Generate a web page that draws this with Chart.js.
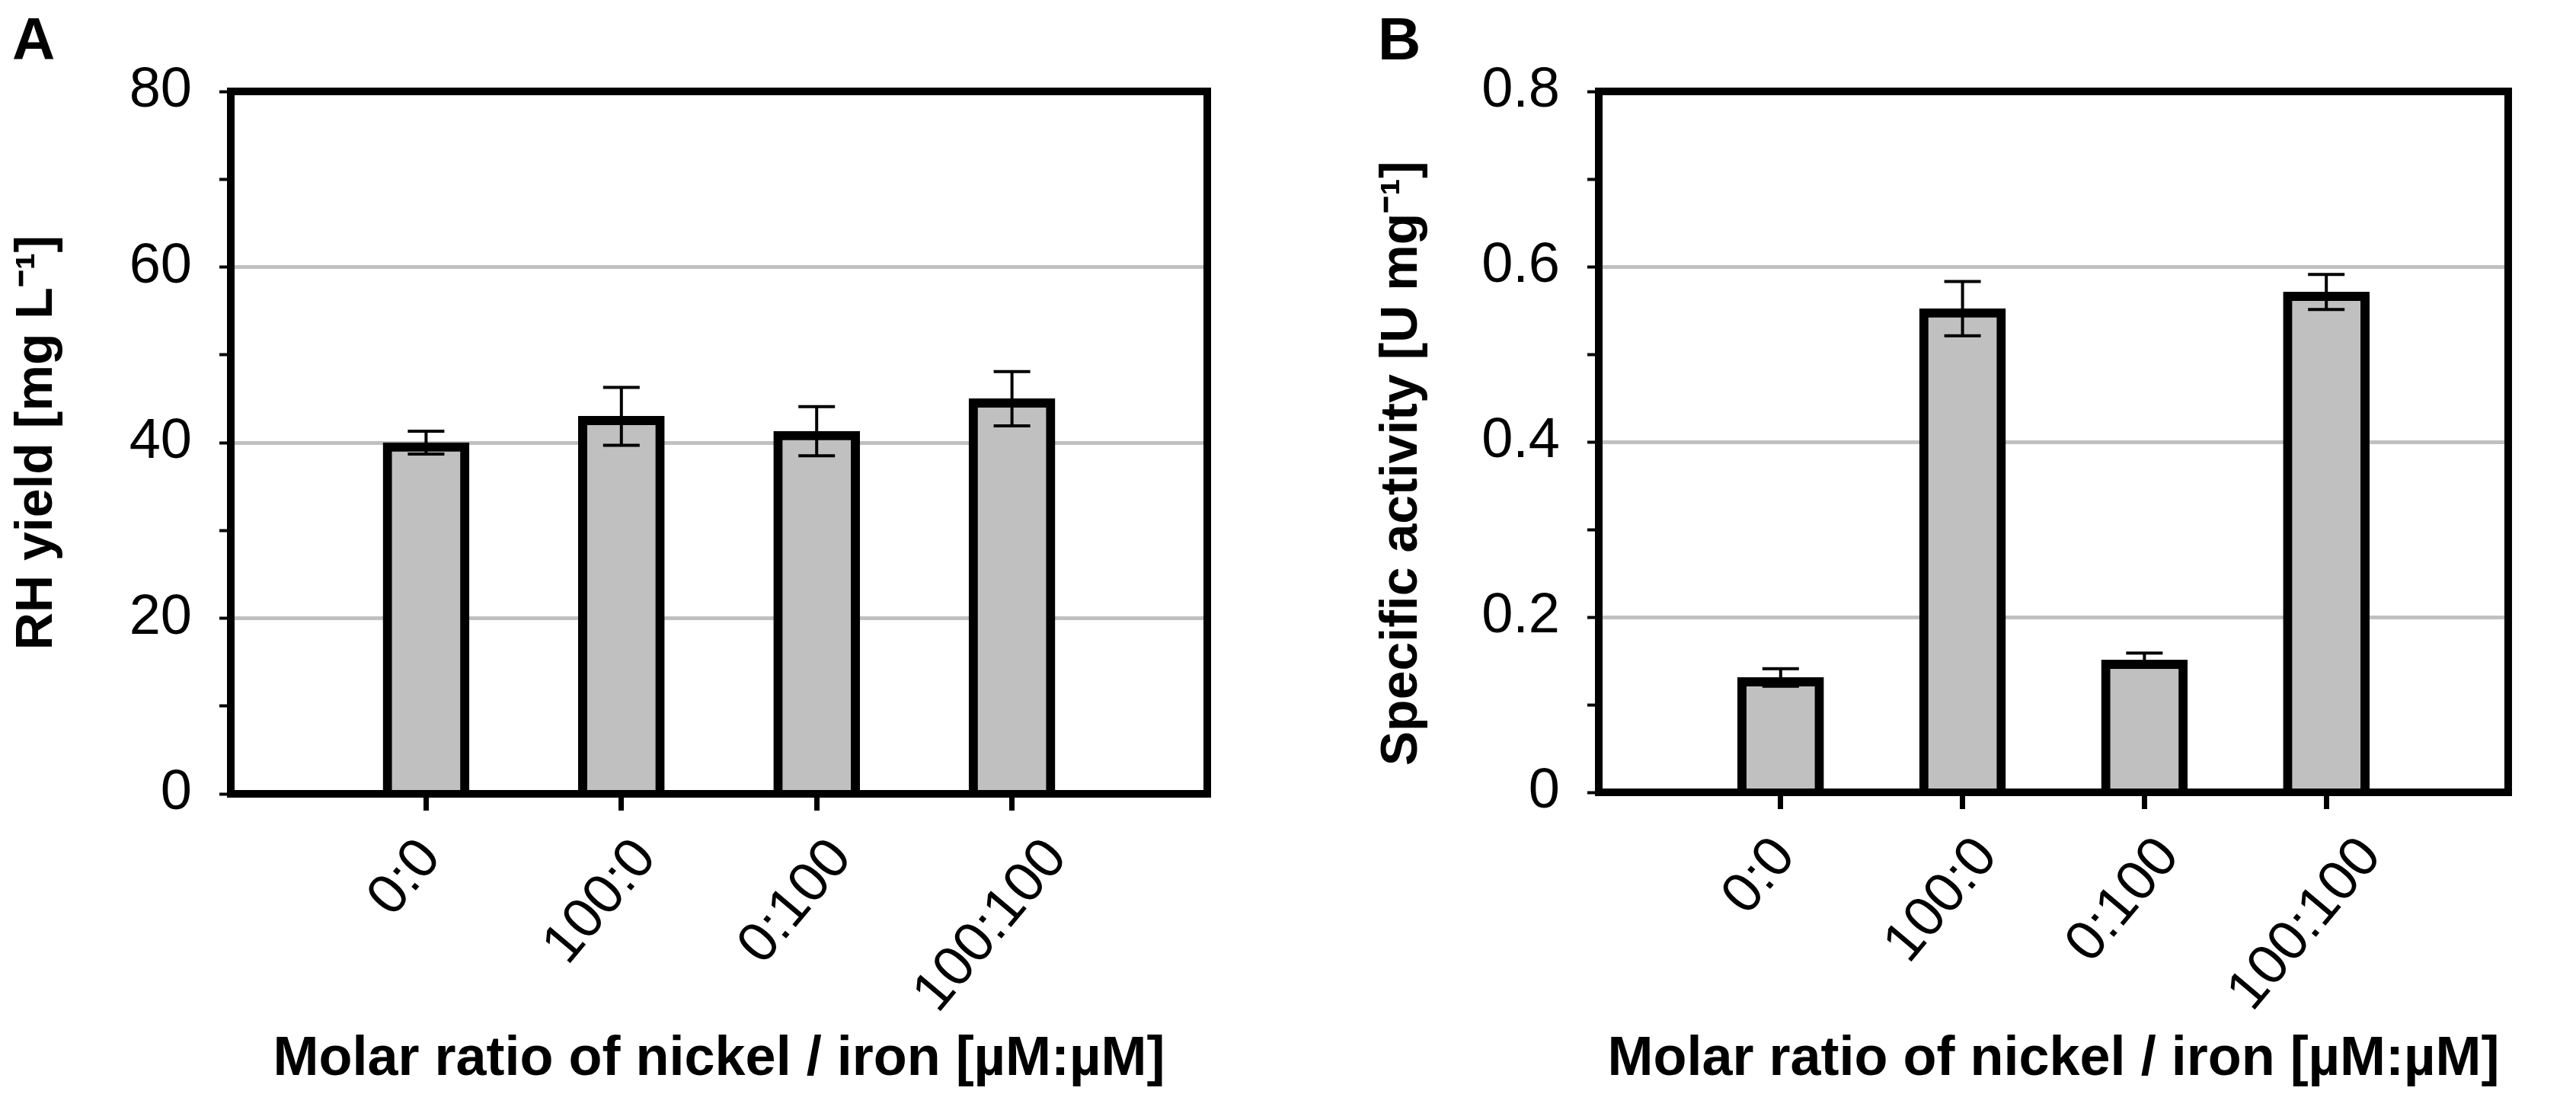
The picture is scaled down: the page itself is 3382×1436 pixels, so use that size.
<!DOCTYPE html>
<html>
<head>
<meta charset="utf-8">
<script src="https://cdn.jsdelivr.net/npm/chart.js@4.4.1/dist/chart.umd.min.js"></script>
<style>
  body { margin: 0; background: #fff; }
  .panel { position: absolute; top: 0; width: 1691px; height: 1436px; }
  .letter { position: absolute; font: bold 78px "Liberation Sans", Arial, sans-serif; line-height: 1; color: #000; }
</style>
</head>
<body>
<div class="panel" style="left:0"><canvas id="chartA"></canvas></div>
<div class="panel" style="left:1691px"><canvas id="chartB"></canvas></div>
<div class="letter" style="left:16px; top:12px">A</div>
<div class="letter" style="left:1809px; top:12px">B</div>
<script>
// molar ratio nickel : iron
var categories = ['0:0', '100:0', '0:100', '100:100'];

// A - RH yield [mg/L]
var yieldMean = [40.0, 43.0, 41.3, 45.0];
var yieldErr = [1.3, 3.3, 2.8, 3.1];
var yieldTicks = ['0', '20', '40', '60', '80'];

// B - specific activity [U/mg]
var activityMean = [0.131, 0.552, 0.151, 0.571];
var activityErr = [0.010, 0.031, 0.008, 0.020];
var activityTicks = ['0', '0.2', '0.4', '0.6', '0.8'];

var FONT = '"Liberation Sans", Arial, sans-serif';

// draws the error bars from the y scale
var errorBarPlugin = {
  id: 'errbars',
  afterDatasetsDraw: function(chart) {
    var ctx = chart.ctx;
    var ds = chart.data.datasets[0];
    var meta = chart.getDatasetMeta(0);
    var y = chart.scales.y;
    ctx.save();
    ctx.strokeStyle = '#000';
    ctx.lineWidth = 4;
    meta.data.forEach(function(bar, i) {
      var v = ds.data[i];
      if (v == null) return;
      var top = y.getPixelForValue(v + ds.errors[i]);
      var bot = y.getPixelForValue(v - ds.errors[i]);
      ctx.beginPath();
      ctx.moveTo(bar.x, top); ctx.lineTo(bar.x, bot);
      ctx.moveTo(bar.x - 24, top); ctx.lineTo(bar.x + 24, top);
      ctx.moveTo(bar.x - 24, bot); ctx.lineTo(bar.x + 24, bot);
      ctx.stroke();
    });
    ctx.restore();
  }
};

// black box round the plot area
var framePlugin = {
  id: 'frame',
  afterDatasetsDraw: function(chart) {
    var a = chart.chartArea;
    var ctx = chart.ctx;
    ctx.save();
    ctx.strokeStyle = '#000';
    ctx.lineWidth = 10;
    ctx.strokeRect(a.left, a.top, a.right - a.left, a.bottom - a.top);
    ctx.restore();
  }
};

// rotated x labels: centre each one under its tick (excel style) instead of ending at it
var labelCenterPlugin = {
  id: 'labelcenter',
  beforeDraw: function(chart) {
    var xs = chart.scales.x;
    var ctx = chart.ctx;
    var cos = Math.cos(xs.labelRotation * Math.PI / 180);
    xs.getLabelItems().forEach(function(it) {
      if (it.shifted || !it.options || !it.options.translation) return;
      ctx.font = it.font.string;
      var w = ctx.measureText(it.label).width;
      it.options.translation[0] += w * cos / 2 - 27;
      it.shifted = true;
    });
  }
};

function makeChart(id, mean, err, tickLabels, maxV, step, yTitle, area) {
  var labels = [''].concat(categories, ['']);
  var data = [null].concat(mean, [null]);
  var errors = [null].concat(err, [null]);
  var nTicks = Math.round(maxV / step);

  return new Chart(document.getElementById(id), {
    type: 'bar',
    data: {
      labels: labels,
      datasets: [{
        data: data,
        errors: errors,
        backgroundColor: '#c0c0c0',
        borderColor: '#000',
        borderWidth: 12,
        barThickness: 113
      }]
    },
    options: {
      responsive: true,
      maintainAspectRatio: false,
      devicePixelRatio: 1,
      animation: false,
      layout: { padding: { top: area.top, right: 1691 - area.right, left: 0, bottom: 0 } },
      plugins: { legend: { display: false }, tooltip: { enabled: false } },
      scales: {
        x: {
          type: 'category',
          offset: false,
          border: { display: false },
          grid: {
            offset: false,
            drawOnChartArea: false,
            tickLength: 22,
            tickWidth: 7,
            tickColor: function(c) { return (c.index === 0 || c.index === labels.length - 1) ? 'rgba(0,0,0,0)' : '#000'; }
          },
          ticks: {
            autoSkip: false,
            minRotation: 50,
            maxRotation: 50,
            padding: 21,
            color: '#000',
            font: { family: FONT, size: 74 }
          },
          title: {
            display: true,
            text: 'Molar ratio of nickel / iron [µM:µM]',
            color: '#000',
            font: { family: FONT, size: 72, weight: 'bold' },
            padding: { top: 0, bottom: 2 }
          },
          afterFit: function(s) { s.height = 1436 - area.bottom; }
        },
        y: {
          min: 0,
          max: maxV,
          border: { display: false },
          grid: {
            lineWidth: 5,
            color: function(c) { return (c.index > 0 && c.index < nTicks && c.index % 2 === 0) ? '#c0c0c0' : 'rgba(0,0,0,0)'; },
            tickColor: '#000',
            tickWidth: 4,
            tickLength: 15
          },
          ticks: {
            stepSize: step,
            autoSkip: false,
            padding: 36,
            color: '#000',
            font: { family: FONT, size: 74 },
            callback: function(v, i) { return i % 2 === 0 ? tickLabels[i / 2] : ''; }
          },
          title: {
            display: true,
            text: yTitle,
            color: '#000',
            font: { family: FONT, size: 68, weight: 'bold' },
            padding: { top: area.titlePad, bottom: 0 }
          },
          afterFit: function(s) { s.width = area.left; }
        }
      }
    },
    plugins: [labelCenterPlugin, errorBarPlugin, framePlugin]
  });
}

makeChart('chartA', yieldMean, yieldErr, yieldTicks, 80, 10, 'RH yield [mg L⁻¹]',
  { left: 303, right: 1585, top: 120, bottom: 1042, titlePad: 8 });
// trailing spaces nudge this title down a little, like the original
makeChart('chartB', activityMean, activityErr, activityTicks, 0.8, 0.1, 'Specific activity [U mg⁻¹]   ',
  { left: 408, right: 1680, top: 120, bottom: 1040, titlePad: 109 });
</script>
</body>
</html>
